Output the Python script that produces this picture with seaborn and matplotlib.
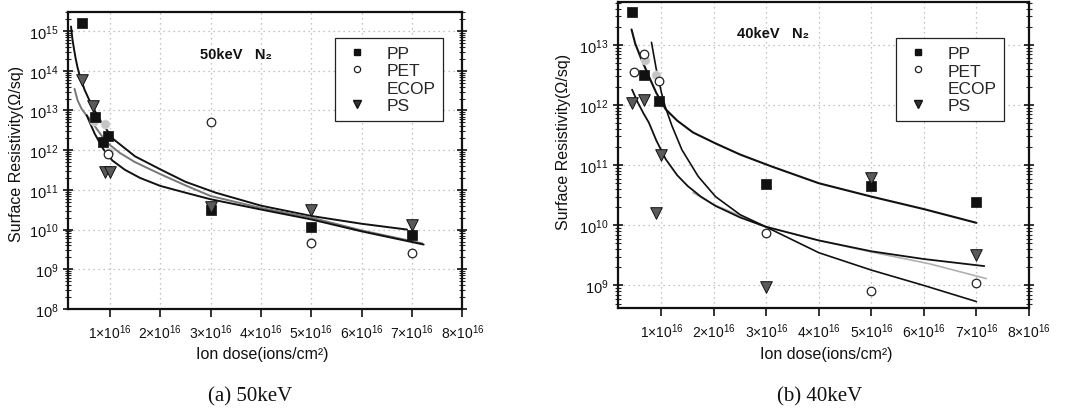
import numpy as np
import pandas as pd
import matplotlib
matplotlib.use("Agg")
import matplotlib.pyplot as plt
import seaborn as sns
from matplotlib.lines import Line2D
from matplotlib.ticker import LogLocator, NullFormatter

sns.set_theme(style="ticks", context="notebook")
plt.rcParams["font.family"] = ["Liberation Sans", "DejaVu Sans"]
plt.rcParams["mathtext.fontset"] = "custom"
plt.rcParams["mathtext.rm"] = "Liberation Sans"
plt.rcParams["mathtext.it"] = "Liberation Sans:italic"
plt.rcParams["mathtext.bf"] = "Liberation Sans:bold"

# dose in units of 1e16 ions/cm2, resistivity in ohm/sq
# ---- (a) 50 keV ----
dose_50_pp = [0.45, 0.70, 0.87, 0.97, 3.0, 5.0, 7.0]
rs_50_pp = [1.6e15, 7e12, 1.6e12, 2.3e12, 3.2e10, 1.15e10, 7.5e9]
dose_50_pet = [0.97, 3.0, 5.0, 7.0]
rs_50_pet = [8e11, 5e12, 4.7e9, 2.5e9]
dose_50_ecop = [0.68, 0.90, 0.98, 3.0, 5.0, 7.0]
rs_50_ecop = [5.5e12, 4.5e12, 9e11, 3.8e10, 4.8e9, 2.5e9]
dose_50_ps = [0.44, 0.66, 0.90, 1.0, 3.0, 5.0, 7.0]
rs_50_ps = [5.7e13, 1.3e13, 2.8e11, 2.8e11, 3.8e10, 3.2e10, 1.3e10]

fit_50_a_x = [0.23, 0.26, 0.29, 0.32, 0.36, 0.40, 0.50, 0.64, 0.83, 1.07, 1.5, 2.0, 2.5,
              3.1, 4.0, 5.0, 6.0, 6.9]
fit_50_a_y = [1.3e15, 6e14, 3.5e14, 2.1e14, 1.2e14, 7.8e13, 3.3e13, 1.35e13, 5.1e12, 1.9e12,
              7e11, 3.3e11, 1.6e11, 8.5e10, 4e10, 2.2e10, 1.4e10, 1.0e10]
fit_50_b_x = [0.30, 0.36, 0.44, 0.52, 0.60, 0.75, 0.93, 1.2, 1.5, 2.0, 2.5, 3.0, 4.0, 5.0,
              6.0, 7.2]
fit_50_b_y = [3.5e13, 1.8e13, 1.1e13, 8e12, 6.2e12, 3.3e12, 1.6e12, 8.5e11, 5e11, 2.5e11,
              1.3e11, 7e10, 3.5e10, 2e10, 9.5e9, 4.5e9]
fit_50_c_x = [0.54, 0.70, 0.87, 1.05, 1.3, 1.6, 2.0, 2.5, 3.0, 4.0, 5.0, 6.0, 7.23]
fit_50_c_y = [7.6e12, 2.6e12, 1.07e12, 5.5e11, 3.2e11, 2e11, 1.26e11, 8.5e10, 5.8e10,
              3.2e10, 1.8e10, 9e9, 4.2e9]

# ---- (b) 40 keV ----
dose_40_pp = [0.44, 0.66, 0.95, 3.0, 5.0, 7.0]
rs_40_pp = [3.5e13, 3.2e12, 1.17e12, 4.9e10, 4.5e10, 2.4e10]
dose_40_pet = [0.47, 0.66, 0.95, 3.0, 5.0, 7.0]
rs_40_pet = [3.5e12, 7e12, 2.5e12, 7.4e9, 8e8, 1.1e9]
dose_40_ecop = [0.68, 0.90]
rs_40_ecop = [5.5e12, 3.2e12]
dose_40_ps = [0.44, 0.66, 1.0, 0.89, 3.0, 5.0, 7.0]
rs_40_ps = [1.1e12, 1.2e12, 1.5e11, 1.6e10, 9.6e8, 6.1e10, 3.2e9]

fit_40_a_x = [0.43, 0.50, 0.60, 0.76, 0.90, 1.08, 1.3, 1.6, 2.03, 2.5, 3.1, 4.0, 5.0, 6.0, 7.0]
fit_40_a_y = [1.8e13, 1.05e13, 6.3e12, 3e12, 1.6e12, 8.5e11, 5.5e11, 3.5e11, 2.3e11, 1.5e11,
              9.5e10, 5e10, 3e10, 1.86e10, 1.1e10]
fit_40_b_x = [0.81, 0.90, 1.0, 1.07, 1.2, 1.39, 1.7, 2.03, 2.5, 2.98, 4.0, 5.0, 6.0, 7.0]
fit_40_b_y = [1.1e13, 4e12, 1.6e12, 9.5e11, 4.5e11, 1.8e11, 6.5e10, 3e10, 1.5e10, 9.5e9,
              3.5e9, 1.8e9, 1.0e9, 5.4e8]
fit_40_c_x = [0.44, 0.55, 0.66, 0.76, 0.90, 1.08, 1.3, 1.5, 1.75, 2.03, 2.5, 2.98, 4.0, 5.0,
              6.0, 7.15]
fit_40_c_y = [1.8e12, 1.1e12, 7.2e11, 5.1e11, 2.6e11, 1.26e11, 6.8e10, 4.5e10, 3e10, 2.1e10,
              1.35e10, 9.5e9, 5.6e9, 3.7e9, 2.75e9, 2.1e9]
fit_40_d_x = [1.6, 2.0, 3.0, 4.0, 5.0, 6.1, 7.19]
fit_40_d_y = [3.5e10, 2.2e10, 9.5e9, 5.6e9, 3.6e9, 2.3e9, 1.3e9]

xtick_vals = [1, 2, 3, 4, 5, 6, 7, 8]
xtick_labels = [r"$%d{\times}10^{16}$" % v for v in xtick_vals]
series_names = ["PP", "PET", "ECOP", "PS"]

STYLE = {
    "PP": dict(marker="s", s=55, color="#111111", edgecolor="#111111", linewidth=0.5),
    "PET": dict(marker="o", s=38, color="white", edgecolor="#222222", linewidth=0.9),
    "ECOP": dict(marker="o", s=42, color="#c4c4c4", edgecolor="#dddddd", linewidth=0.5),
    "PS": dict(marker="v", s=70, color="#5a5a5a", edgecolor="#111111", linewidth=0.7),
}


def draw_panel(ax, points, curves, ylim, yexp, note, note_pos, leg_anchor):
    for x, y, col, lw in curves:
        sns.lineplot(x=x, y=y, ax=ax, color=col, lw=lw, sort=False, estimator=None)
    for name in ["ECOP", "PET", "PP", "PS"]:
        x, y = points[name]
        df = pd.DataFrame({"dose": x, "rs": y})
        sns.scatterplot(data=df, x="dose", y="rs", ax=ax, zorder=3, **STYLE[name])

    ax.set_yscale("log")
    ax.set_xlim(0.17, 8.0)
    ax.set_ylim(*ylim)
    ax.set_xticks(xtick_vals)
    ax.set_xticklabels(xtick_labels, fontsize=10)
    ax.set_yticks([10.0 ** e for e in yexp])
    ax.set_yticklabels([r"$10^{%d}$" % e for e in yexp], fontsize=10.5)
    ax.yaxis.set_minor_locator(LogLocator(base=10, subs=np.arange(2, 10), numticks=30))
    ax.yaxis.set_minor_formatter(NullFormatter())
    ax.tick_params(axis="x", direction="out", length=6, width=1.2, colors="#111111")
    ax.tick_params(axis="y", which="major", direction="inout", length=7, width=1.2,
                   right=True, colors="#111111")
    ax.tick_params(axis="y", which="minor", direction="inout", length=4, width=0.8, right=True)
    ax.grid(True, which="major", color="#b0b0b0", linestyle=(0, (1, 3)), linewidth=0.9)
    for sp in ax.spines.values():
        sp.set_visible(True)
        sp.set_color("#111111")
        sp.set_linewidth(1.6)

    ax.set_xlabel("Ion dose(ions/cm²)", fontsize=11.5, color="#111111")
    ax.set_ylabel("Surface Resistivity(Ω/sq)", fontsize=11.5, color="#111111")
    ax.text(note_pos[0], note_pos[1], note, transform=ax.transAxes, fontsize=10.5,
            fontweight="bold", color="#111111", va="center",
            family=["Liberation Sans", "DejaVu Sans"])

    handles = [
        Line2D([], [], ls="", marker="s", ms=5, mfc="#111111", mec="#111111"),
        Line2D([], [], ls="", marker="o", ms=4.5, mfc="white", mec="#222222", mew=0.9),
        Line2D([], [], ls="", marker="o", ms=4.5, mfc="white", mec="white"),
        Line2D([], [], ls="", marker="v", ms=5.5, mfc="#333333", mec="#111111"),
    ]
    leg = ax.legend(handles, series_names, loc="upper left", bbox_to_anchor=leg_anchor,
                    fontsize=12.5, frameon=True, fancybox=False, framealpha=1,
                    labelspacing=0.12, handletextpad=0.9, borderpad=0.45,
                    handlelength=1.6, borderaxespad=0)
    leg.get_frame().set_edgecolor("#222222")
    leg.get_frame().set_linewidth(0.9)


fig = plt.figure(figsize=(10.69, 4.10), dpi=100)
ax_a = fig.add_axes([0.0636, 0.244, 0.369, 0.724])
ax_b = fig.add_axes([0.578, 0.246, 0.3845, 0.746])

draw_panel(
    ax_a,
    {"PP": (dose_50_pp, rs_50_pp), "PET": (dose_50_pet, rs_50_pet),
     "ECOP": (dose_50_ecop, rs_50_ecop), "PS": (dose_50_ps, rs_50_ps)},
    [(fit_50_a_x, fit_50_a_y, "#111111", 1.4),
     (fit_50_b_x, fit_50_b_y, "#777777", 1.4),
     (fit_50_c_x, fit_50_c_y, "#111111", 1.4)],
    (1e8, 3e15), list(range(8, 16)), "50keV   N₂", (0.335, 0.86), (0.678, 0.912),
)
draw_panel(
    ax_b,
    {"PP": (dose_40_pp, rs_40_pp), "PET": (dose_40_pet, rs_40_pet),
     "ECOP": (dose_40_ecop, rs_40_ecop), "PS": (dose_40_ps, rs_40_ps)},
    [(fit_40_d_x, fit_40_d_y, "#b0b0b0", 1.2),
     (fit_40_a_x, fit_40_a_y, "#111111", 1.5),
     (fit_40_b_x, fit_40_b_y, "#111111", 1.2),
     (fit_40_c_x, fit_40_c_y, "#111111", 1.3)],
    (4.2e8, 5.1e13), list(range(9, 14)), "40keV   N₂", (0.29, 0.90), (0.677, 0.882),
)

ax_a.xaxis.set_label_coords(0.492, -0.125)
ax_a.yaxis.set_label_coords(-0.112, 0.525)
ax_b.xaxis.set_label_coords(0.506, -0.125)
ax_b.yaxis.set_label_coords(-0.115, 0.546)

fig.text(0.234, 0.032, "(a) 50keV", family="Liberation Serif", fontsize=15,
         ha="center", va="center", color="#111111")
fig.text(0.767, 0.032, "(b) 40keV", family="Liberation Serif", fontsize=15,
         ha="center", va="center", color="#111111")

fig.savefig("out.png", dpi=100, facecolor="white")
